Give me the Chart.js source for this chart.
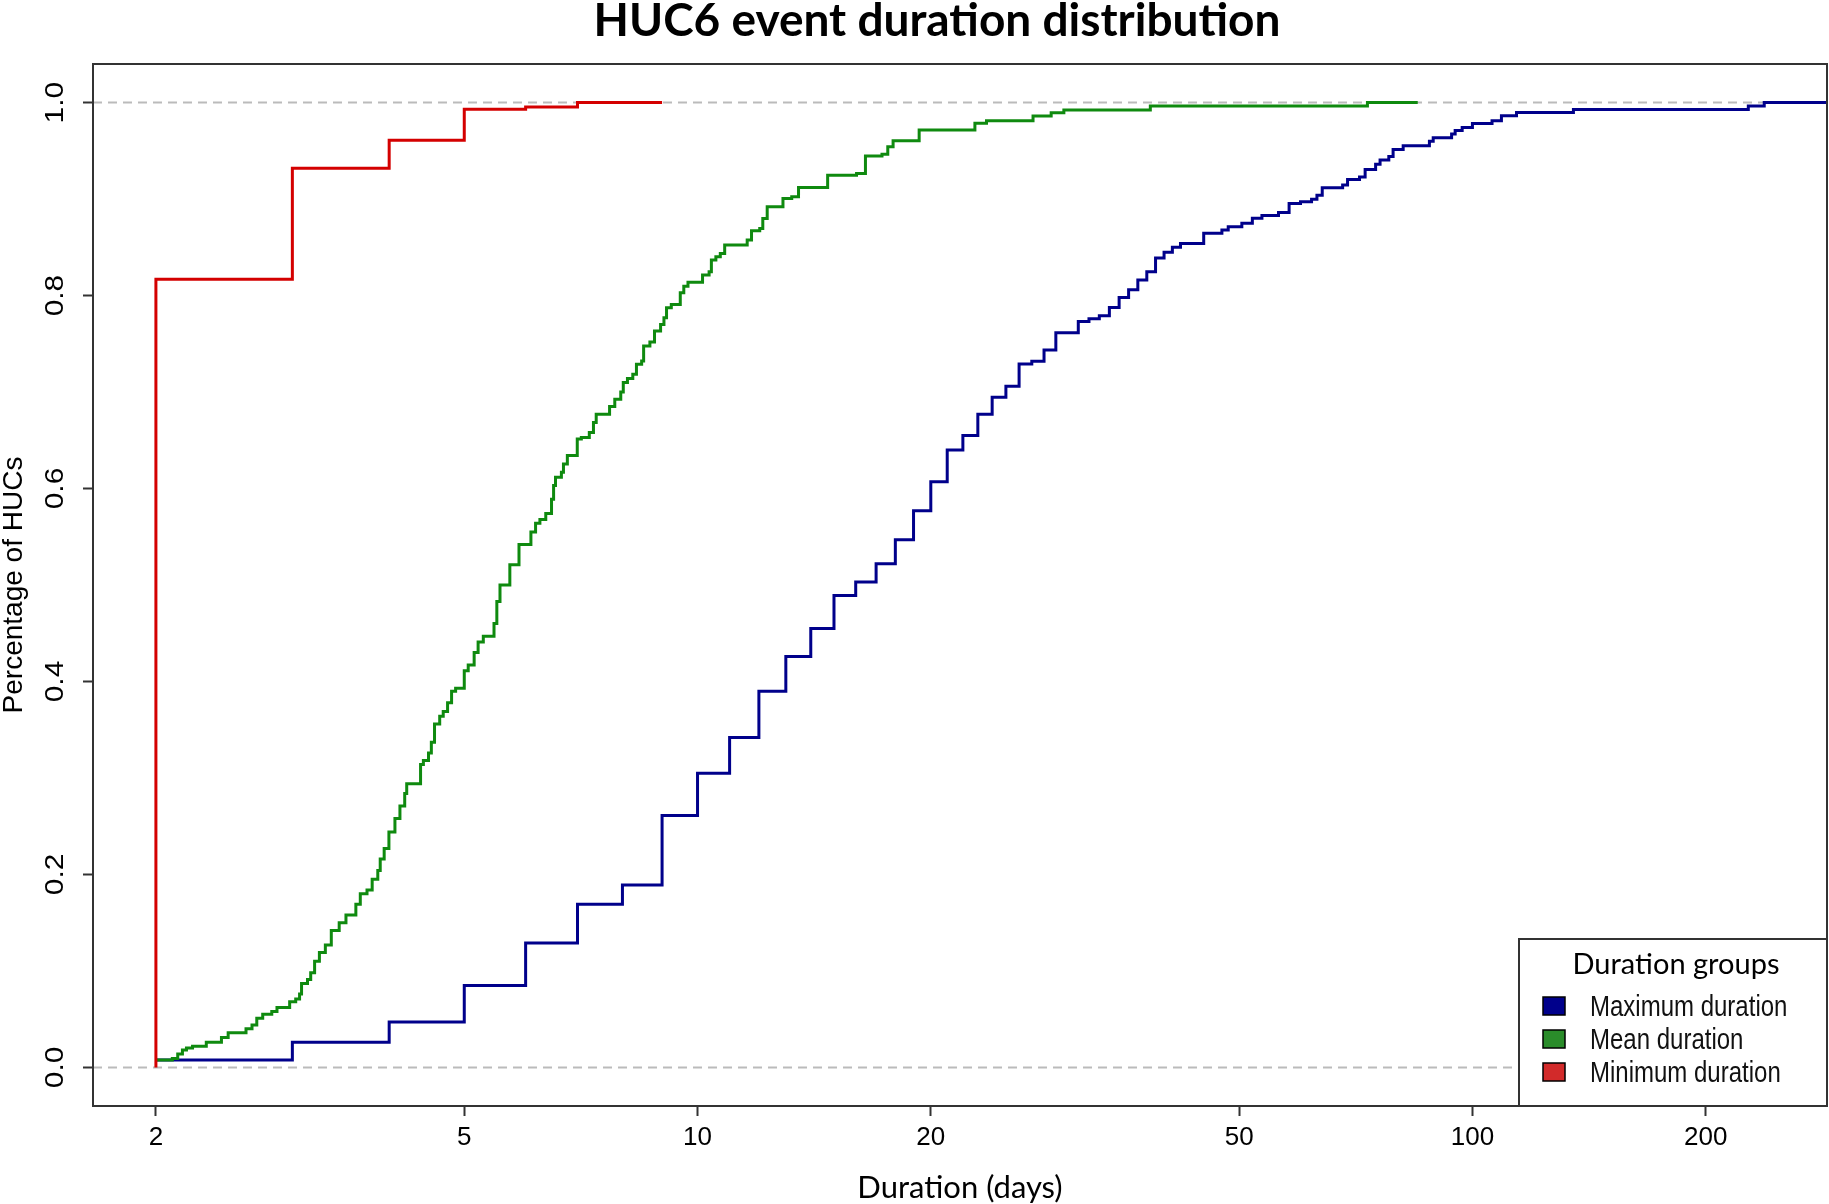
<!DOCTYPE html>
<html>
<head>
<meta charset="utf-8">
<title>HUC6 event duration distribution</title>
<script src="https://cdn.jsdelivr.net/npm/chart.js@4.4.1/dist/chart.umd.min.js"></script>
<style>
  html, body { margin: 0; padding: 0; background: #fff; }
  #wrap { position: relative; width: 1829px; height: 1204px; }
</style>
</head>
<body>
<div id="wrap"><canvas id="ecdfChart" width="1829" height="1204"></canvas></div>
<script>
const chartTitle = 'HUC6 event duration distribution';
const xTitle = 'Duration (days)';
const yTitle = 'Percentage of HUCs';
const legendTitle = 'Duration groups';
const seriesNames = ['Maximum duration', 'Mean duration', 'Minimum duration'];
const lineColors = ['#00008B', '#0F8A0F', '#D40000'];
const boxColors = ['#00008B', '#2A8C2A', '#D22A2A'];

const xTicks = [2, 5, 10, 20, 50, 100, 200];
const yTicks = [0, 0.2, 0.4, 0.6, 0.8, 1.0];
const refLines = [0, 1];
const xMin = 1.659, xMax = 286.8;
const yMin = -0.04, yMax = 1.04;

// step points: value holds from each x until the next x
const maxDays = [2, 3, 4, 5, 6, 7, 8, 9, 10, 11, 12, 13, 14, 15, 16, 17, 18, 19, 20, 21, 22, 23, 24, 25, 26, 27, 28, 29,
  31, 32, 33, 34, 35, 36, 37, 38, 39, 40, 41, 42, 45, 47.5, 48.4, 50.4, 52, 53.5, 56.2, 58, 60, 62, 63, 64,
  68, 69, 71.5, 72.7, 75, 76, 78, 79, 81.4, 88, 89, 94, 95, 97, 100, 106, 109, 114, 135, 227, 238, 286];
const maxFrac = [0.0076, 0.026, 0.047, 0.085, 0.129, 0.169, 0.189, 0.261, 0.305, 0.342, 0.390, 0.426, 0.455, 0.489,
  0.503, 0.522, 0.547, 0.577, 0.607, 0.640, 0.655, 0.677, 0.6945, 0.706, 0.729, 0.732, 0.7435, 0.7615,
  0.773, 0.776, 0.779, 0.7875, 0.798, 0.806, 0.816, 0.8247, 0.839, 0.845, 0.850, 0.854, 0.8645, 0.868, 0.8714,
  0.875, 0.880, 0.883, 0.886, 0.8955, 0.8973, 0.8997, 0.904, 0.9118, 0.9146, 0.9204, 0.923, 0.9307, 0.936,
  0.9404, 0.944, 0.9515, 0.9553, 0.960, 0.9636, 0.9674, 0.971, 0.9743, 0.9784, 0.9812, 0.9864, 0.9898, 0.9929,
  0.9964, 1.0, 1.0];

const meanDays = [2, 2.10, 2.134, 2.164, 2.19, 2.23, 2.323, 2.43, 2.479, 2.614,
  2.661, 2.699, 2.747, 2.822, 2.866, 2.976, 3.03, 3.065, 3.083, 3.138,
  3.168, 3.205, 3.251, 3.309, 3.368, 3.448, 3.518, 3.623, 3.671, 3.745,
  3.803, 3.867, 3.895, 3.941, 3.997, 4.069, 4.13, 4.189, 4.214, 4.391,
  4.428, 4.496, 4.534, 4.577, 4.648, 4.697, 4.758, 4.815, 4.873, 5.0,
  5.059, 5.149, 5.21, 5.291, 5.462, 5.508, 5.56, 5.725, 5.883, 6.095,
  6.18, 6.26, 6.37, 6.48, 6.52, 6.557, 6.673, 6.714, 6.792, 6.995,
  7.08, 7.25, 7.34, 7.40, 7.70, 7.82, 7.96, 8.02, 8.12, 8.25,
  8.34, 8.47, 8.52, 8.68, 8.80, 8.96, 9.05, 9.12, 9.25, 9.50,
  9.60, 9.72, 10.15, 10.35, 10.42, 10.56, 10.70, 10.84, 11.59, 11.74,
  12.03, 12.14, 12.30, 12.89, 13.23, 13.50, 14.72, 16.04, 16.47, 17.3,
  17.6, 17.88, 19.32, 22.8, 23.6, 27.1, 28.6, 29.7, 38.4, 73.2, 85];
const meanFrac = [0.0076, 0.0093, 0.014, 0.018, 0.020, 0.022, 0.026, 0.031, 0.036, 0.040,
  0.044, 0.051, 0.055, 0.058, 0.062, 0.068, 0.071, 0.076, 0.087, 0.091,
  0.098, 0.110, 0.119, 0.127, 0.142, 0.150, 0.158, 0.169, 0.180, 0.184,
  0.195, 0.204, 0.216, 0.227, 0.244, 0.258, 0.271, 0.284, 0.294, 0.314,
  0.318, 0.326, 0.337, 0.356, 0.364, 0.369, 0.378, 0.390, 0.393, 0.411,
  0.417, 0.430, 0.441, 0.447, 0.460, 0.483, 0.500, 0.521, 0.542, 0.555,
  0.564, 0.568, 0.574, 0.589, 0.603, 0.6117, 0.6169, 0.6255, 0.6341, 0.6513,
  0.653, 0.658, 0.6685, 0.677, 0.685, 0.6926, 0.700, 0.7098, 0.714, 0.7184,
  0.7287, 0.7322, 0.7477, 0.7518, 0.7632, 0.770, 0.7769, 0.7873, 0.7907, 0.8028,
  0.8096, 0.8138, 0.8212, 0.8247, 0.8368, 0.8402, 0.8437, 0.8523, 0.8575, 0.8672,
  0.8696, 0.8799, 0.892, 0.9007, 0.9024, 0.912, 0.9248, 0.9265, 0.9447, 0.9464,
  0.9543, 0.9605, 0.9716, 0.9785, 0.9813, 0.9861, 0.9895, 0.9923, 0.9965, 1.0, 1.0];

const minDays = [2, 2, 3, 4, 5, 6, 7, 9];
const minFrac = [0, 0.817, 0.932, 0.961, 0.993, 0.9955, 1.0, 1.0];

const sansFont = "'Liberation Sans', Arial, sans-serif";
const titleFont = "Lato, 'Noto Sans', sans-serif";

function toPoints(xs, ys) {
  return xs.map((x, i) => ({ x: x, y: ys[i] }));
}

const datasets = [
  { label: seriesNames[0], data: toPoints(maxDays, maxFrac), borderColor: lineColors[0], order: 3 },
  { label: seriesNames[1], data: toPoints(meanDays, meanFrac), borderColor: lineColors[1], order: 2 },
  { label: seriesNames[2], data: toPoints(minDays, minFrac), borderColor: lineColors[2], order: 1 }
].map(d => Object.assign(d, { stepped: 'before', borderWidth: 3, pointRadius: 0, fill: false, tension: 0 }));

// title, frame, reference lines, rotated y labels and the boxed legend
const decor = {
  id: 'decor',
  beforeDatasetsDraw(chart) {
    const { ctx, chartArea: a, scales: { y } } = chart;
    ctx.save();
    ctx.strokeStyle = '#BBBBBB';
    ctx.lineWidth = 2;
    ctx.setLineDash([9, 6]);
    refLines.forEach(v => {
      const py = y.getPixelForValue(v);
      ctx.beginPath();
      ctx.moveTo(a.left, py);
      ctx.lineTo(a.right, py);
      ctx.stroke();
    });
    ctx.restore();
  },
  afterDraw(chart) {
    const { ctx, chartArea: a, scales: { y } } = chart;
    ctx.save();
    ctx.strokeStyle = '#333';
    ctx.lineWidth = 2;
    ctx.strokeRect(a.left, a.top, a.right - a.left, a.bottom - a.top);

    ctx.fillStyle = '#000';
    ctx.font = 'bold 46px ' + titleFont;
    ctx.textAlign = 'center';
    ctx.textBaseline = 'alphabetic';
    ctx.fillText(chartTitle, 937, 36);

    // y tick labels run bottom-to-top, slightly stretched like the original
    ctx.font = '26px ' + sansFont;
    ctx.textBaseline = 'middle';
    yTicks.forEach(v => {
      ctx.save();
      ctx.translate(56, y.getPixelForValue(v));
      ctx.rotate(-Math.PI / 2);
      ctx.scale(1.15, 1);
      ctx.fillText(v.toFixed(1), 0, 0);
      ctx.restore();
    });

    // legend box in the lower right corner of the plot
    const lx = a.right - 308, ly = a.bottom - 167;
    ctx.fillStyle = '#fff';
    ctx.fillRect(lx, ly, a.right - lx, a.bottom - ly);
    ctx.strokeStyle = '#333';
    ctx.lineWidth = 2;
    ctx.strokeRect(lx, ly, a.right - lx, a.bottom - ly);
    ctx.fillStyle = '#000';
    ctx.font = '29px ' + titleFont;
    ctx.textAlign = 'center';
    ctx.textBaseline = 'alphabetic';
    ctx.fillText(legendTitle, (lx + a.right) / 2 + 3, ly + 35);
    ctx.font = '24px ' + sansFont;
    ctx.textAlign = 'left';
    seriesNames.forEach((name, i) => {
      const ry = ly + 58 + i * 33;
      ctx.fillStyle = boxColors[i];
      ctx.fillRect(lx + 24, ry, 22, 18);
      ctx.strokeStyle = '#000';
      ctx.lineWidth = 1.5;
      ctx.strokeRect(lx + 24, ry, 22, 18);
      ctx.fillStyle = '#111';
      ctx.save();
      ctx.translate(lx + 71, ry + 19);
      ctx.scale(1, 1.25);
      ctx.fillText(name, 0, 0);
      ctx.restore();
    });
    ctx.restore();
  }
};

function draw() {
  new Chart(document.getElementById('ecdfChart'), {
    type: 'line',
    data: { datasets: datasets },
    options: {
      responsive: false,
      animation: false,
      events: [],
      layout: { padding: { top: 64, right: 2, bottom: 1, left: 0 } },
      plugins: { legend: { display: false }, tooltip: { enabled: false }, title: { display: false } },
      scales: {
        x: {
          type: 'logarithmic',
          min: xMin,
          max: xMax,
          afterBuildTicks: s => { s.ticks = xTicks.map(v => ({ value: v })); },
          ticks: {
            font: { family: sansFont, size: 26, lineHeight: 1 },
            color: '#000',
            padding: 9,
            maxRotation: 0,
            autoSkip: false,
            callback: v => String(v)
          },
          grid: { display: true, drawOnChartArea: false, drawTicks: true, tickLength: 10, tickColor: '#333', tickWidth: 2 },
          border: { display: false },
          title: {
            display: true, text: xTitle, color: '#000',
            font: { family: titleFont, size: 31, lineHeight: 1 },
            padding: { top: 12, bottom: 0 }
          }
        },
        y: {
          type: 'linear',
          min: yMin,
          max: yMax,
          afterBuildTicks: s => { s.ticks = yTicks.map(v => ({ value: v })); },
          ticks: { display: false },
          grid: { display: true, drawOnChartArea: false, drawTicks: true, tickLength: 10, tickColor: '#333', tickWidth: 2 },
          border: { display: false },
          title: {
            display: true, text: yTitle, color: '#000',
            font: { family: sansFont, size: 28, lineHeight: 1 },
            padding: { top: 0, bottom: 55 }
          }
        }
      }
    },
    plugins: [decor]
  });
}

const fontsWanted = ['bold 46px Lato', '29px Lato', '31px Lato', "26px 'Liberation Sans'"];
if (document.fonts && document.fonts.load) {
  Promise.all(fontsWanted.map(f => document.fonts.load(f))).then(draw, draw);
} else {
  draw();
}
</script>
</body>
</html>
